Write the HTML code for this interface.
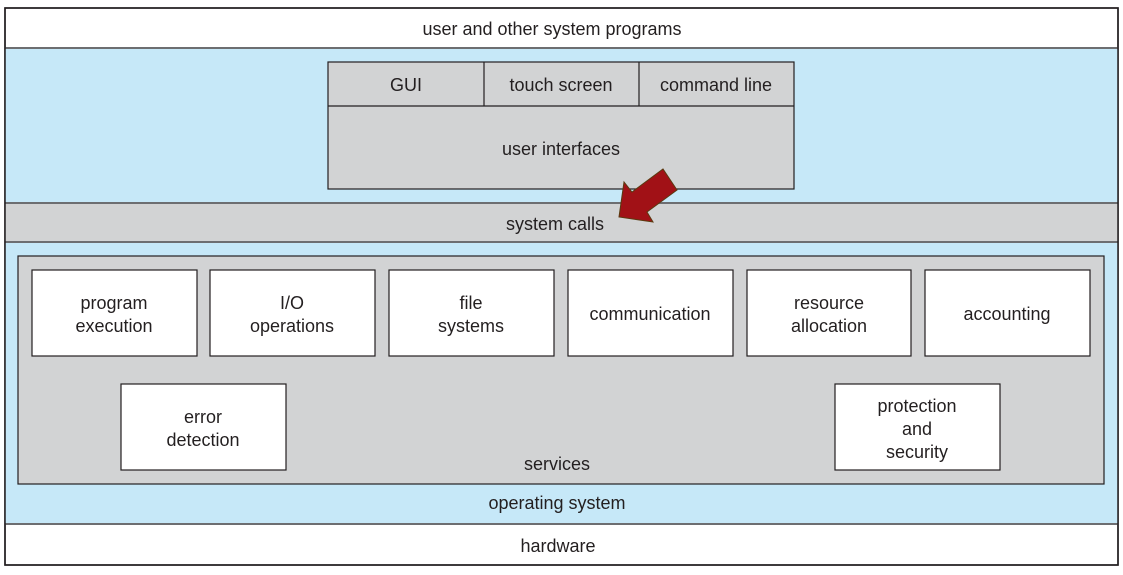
<!DOCTYPE html>
<html><head><style>
body{margin:0;background:#fff}
svg text{font-family:"Liberation Sans",sans-serif;font-size:18px;fill:#231f20;text-anchor:middle}
</style></head><body>
<svg width="1123" height="570" viewBox="0 0 1123 570">
<rect x="0" y="0" width="1123" height="570" fill="#fff"/>
<rect x="5" y="8" width="1113" height="557" fill="#fff" stroke="#231f20" stroke-width="1.5"/>
<rect x="5" y="48" width="1113" height="155" fill="#c6e8f8"/>
<rect x="5" y="242" width="1113" height="282" fill="#c6e8f8"/>
<rect x="5" y="203" width="1113" height="39" fill="#d2d3d4"/>
<g stroke="#6d6e71" stroke-width="2">
<line x1="5" y1="48" x2="1118" y2="48"/>
<line x1="5" y1="203" x2="1118" y2="203"/>
<line x1="5" y1="242" x2="1118" y2="242"/>
<line x1="5" y1="524" x2="1118" y2="524"/>
</g>
<rect x="5" y="8" width="1113" height="557" fill="none" stroke="#231f20" stroke-width="1.5"/>
<text x="552" y="35">user and other system programs</text>
<rect x="328" y="62" width="466" height="127" fill="#d2d3d4" stroke="#231f20" stroke-width="1.2"/>
<line x1="328" y1="106" x2="794" y2="106" stroke="#231f20" stroke-width="1.2"/>
<line x1="484" y1="62" x2="484" y2="106" stroke="#231f20" stroke-width="1.2"/>
<line x1="639" y1="62" x2="639" y2="106" stroke="#231f20" stroke-width="1.2"/>
<text x="406" y="91">GUI</text>
<text x="561" y="91">touch screen</text>
<text x="716" y="91">command line</text>
<text x="561" y="155">user interfaces</text>
<text x="555" y="230">system calls</text>
<rect x="18" y="256" width="1086" height="228" fill="#d2d3d4" stroke="#231f20" stroke-width="1.2"/>
<g fill="#fff" stroke="#231f20" stroke-width="1.2">
<rect x="32" y="270" width="165" height="86"/>
<rect x="210" y="270" width="165" height="86"/>
<rect x="389" y="270" width="165" height="86"/>
<rect x="568" y="270" width="165" height="86"/>
<rect x="747" y="270" width="164" height="86"/>
<rect x="925" y="270" width="165" height="86"/>
<rect x="121" y="384" width="165" height="86"/>
<rect x="835" y="384" width="165" height="86"/>
</g>
<text x="114" y="309">program</text><text x="114" y="332">execution</text>
<text x="292" y="309">I/O</text><text x="292" y="332">operations</text>
<text x="471" y="309">file</text><text x="471" y="332">systems</text>
<text x="650" y="320">communication</text>
<text x="829" y="309">resource</text><text x="829" y="332">allocation</text>
<text x="1007" y="320">accounting</text>
<text x="203" y="423">error</text><text x="203" y="446">detection</text>
<text x="917" y="412">protection</text><text x="917" y="435">and</text><text x="917" y="458">security</text>
<text x="557" y="470">services</text>
<text x="557" y="509">operating system</text>
<text x="558" y="552">hardware</text>
<polygon points="619,217 624,182 632,192 663,169 677,190 647,212 653,222" fill="#a11116" stroke="#5a3a10" stroke-width="1"/>
</svg>
</body></html>
